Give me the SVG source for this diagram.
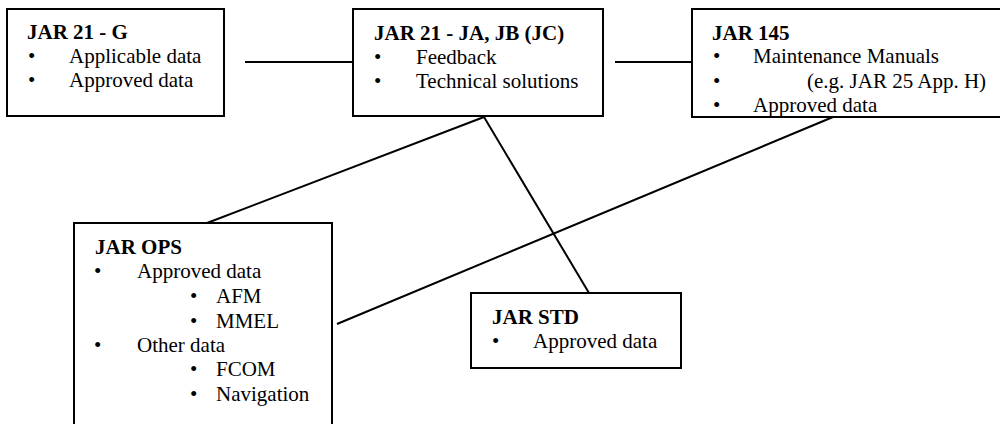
<svg xmlns="http://www.w3.org/2000/svg" width="1000" height="424" viewBox="0 0 1000 424">
<style>
.box{fill:#fff;stroke:#000;stroke-width:2}
.ln{stroke:#000;stroke-width:2;fill:none}
text{font-family:"Liberation Serif","Times New Roman",serif;font-size:21px;fill:#000}
.t{font-weight:bold}
</style>
<rect x="0" y="0" width="1000" height="424" fill="#fff"/>
<g id="connectors">
<line class="ln" x1="245" y1="62" x2="353" y2="62"/>
<line class="ln" x1="615" y1="62" x2="692" y2="62"/>
<line class="ln" x1="484" y1="117" x2="207" y2="223"/>
<line class="ln" x1="484" y1="117" x2="589" y2="293"/>
<line class="ln" x1="833" y1="117" x2="337" y2="324"/>
</g>
<g id="jar21g">
<rect class="box" x="7" y="9" width="217" height="107"/>
<text class="t" x="27" y="39">JAR 21 - G</text>
<text x="28" y="63">•</text><text x="69" y="63">Applicable data</text>
<text x="28" y="87">•</text><text x="69" y="87">Approved data</text>
</g>
<g id="jar21ja">
<rect class="box" x="353" y="9" width="250" height="107"/>
<text class="t" x="374" y="40">JAR 21 - JA, JB (JC)</text>
<text x="374" y="64">•</text><text x="416" y="64">Feedback</text>
<text x="374" y="88">•</text><text x="416" y="88">Technical solutions</text>
</g>
<g id="jar145">
<rect class="box" x="692" y="9" width="320" height="108"/>
<text class="t" x="712" y="40">JAR 145</text>
<text x="713" y="63">•</text><text x="753" y="63">Maintenance Manuals</text>
<text x="713" y="88">•</text><text x="807" y="88">(e.g. JAR 25 App. H)</text>
<text x="713" y="112">•</text><text x="753" y="112">Approved data</text>
</g>
<g id="jarops">
<rect class="box" x="74" y="223" width="258" height="220"/>
<text class="t" x="95" y="254">JAR OPS</text>
<text x="94" y="278">•</text><text x="137" y="278">Approved data</text>
<text x="190" y="303">•</text><text x="216" y="303">AFM</text>
<text x="190" y="328">•</text><text x="216" y="328">MMEL</text>
<text x="94" y="352">•</text><text x="137" y="352">Other data</text>
<text x="190" y="376">•</text><text x="216" y="376">FCOM</text>
<text x="190" y="401">•</text><text x="216" y="401">Navigation</text>
</g>
<g id="jarstd">
<rect class="box" x="471" y="293" width="210" height="75"/>
<text class="t" x="492" y="324">JAR STD</text>
<text x="492" y="348">•</text><text x="533" y="348">Approved data</text>
</g>
</svg>
